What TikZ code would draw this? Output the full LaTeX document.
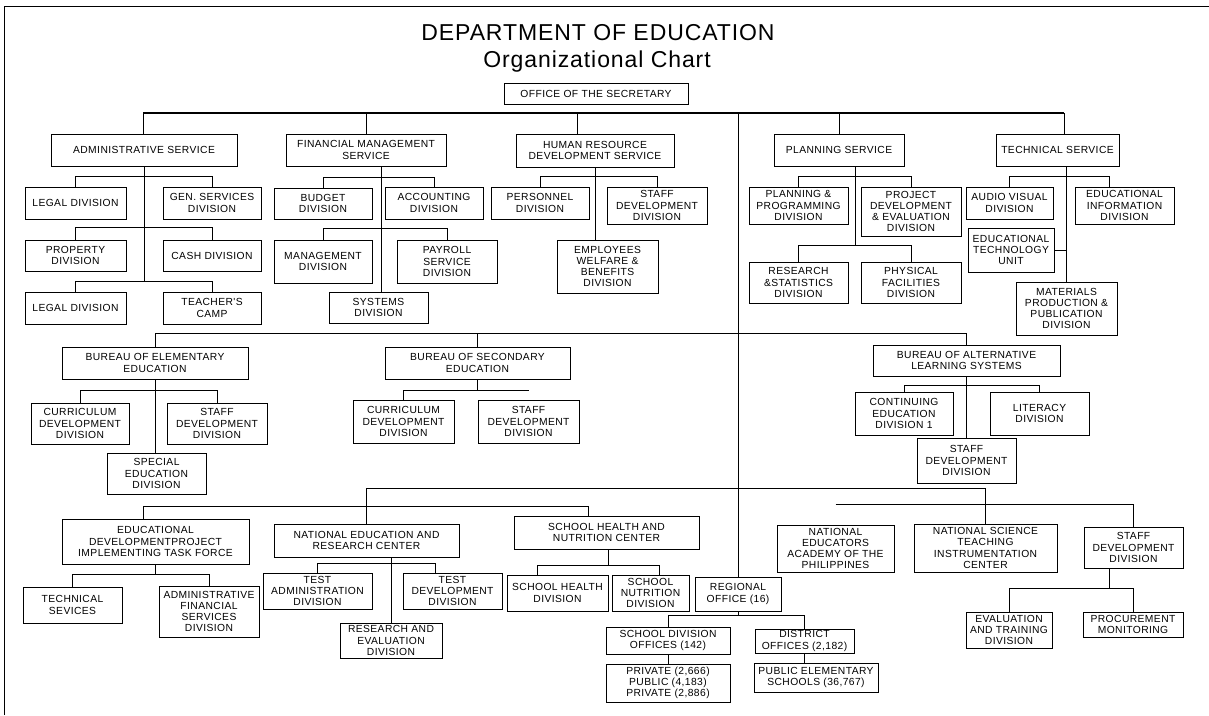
\documentclass[tikz,border=0pt]{standalone}
\usepackage{fontspec}
\setmainfont{Liberation Sans}
\newfontfamily\boxfont[LetterSpace=4]{Liberation Sans}
\newfontfamily\titlefont[LetterSpace=4]{Liberation Sans}
\tikzstyle{box} = [rectangle, draw=black, line width=0.9pt, align=center,
inner sep=0pt, font=\boxfont\fontsize{10.3}{11.2}\selectfont]
\tikzstyle{heading} = [anchor=base, font=\titlefont\fontsize{23}{26}\selectfont]
\tikzstyle{bar} = [line width=1.8pt]
\tikzstyle{thinline} = [line width=0.5pt]

\begin{document}
\begin{tikzpicture}[x=1pt, y=-1pt, line width=0.9pt]
\useasboundingbox (0,0) rectangle (1209,715);
\draw (4,715) -- (4,6) -- (1209,6);
%Titles
\node (ttl) [heading] at (598,40) {DEPARTMENT OF EDUCATION};
\node (sub) [heading] at (597,67) {Organizational Chart};
%Calling the blocks
\node (sec) [box, minimum width=184pt, minimum height=21pt] at (596,93.5) {OFFICE OF THE SECRETARY};
\node (adm) [box, minimum width=186pt, minimum height=32pt] at (144,150) {ADMINISTRATIVE SERVICE};
\node (fms) [box, minimum width=160pt, minimum height=32pt] at (366,150) {FINANCIAL MANAGEMENT\\SERVICE};
\node (hrd) [box, minimum width=158pt, minimum height=33pt] at (595,150.5) {HUMAN RESOURCE\\DEVELOPMENT SERVICE};
\node (pls) [box, minimum width=130pt, minimum height=32pt] at (839,150) {PLANNING SERVICE};
\node (tcs) [box, minimum width=123pt, minimum height=32pt] at (1057.5,150) {TECHNICAL SERVICE};
% administrative service
\node (legA) [box, minimum width=101pt, minimum height=32pt] at (75.5,203) {LEGAL DIVISION};
\node (gsd) [box, minimum width=98pt, minimum height=32pt] at (212,203) {GEN. SERVICES\\DIVISION};
\node (prop) [box, minimum width=101pt, minimum height=31pt] at (75.5,255.5) {PROPERTY\\DIVISION};
\node (cash) [box, minimum width=98pt, minimum height=31pt] at (212,255.5) {CASH DIVISION};
\node (legB) [box, minimum width=101pt, minimum height=32pt] at (75.5,308) {LEGAL DIVISION};
\node (tcamp) [box, minimum width=98pt, minimum height=32pt] at (212,308) {TEACHER'S\\CAMP};
% financial management service
\node (bud) [box, minimum width=98pt, minimum height=31pt] at (323,203.5) {BUDGET\\DIVISION};
\node (acct) [box, minimum width=98pt, minimum height=32pt] at (434,203) {ACCOUNTING\\DIVISION};
\node (mgmt) [box, minimum width=98pt, minimum height=43pt] at (323,261.5) {MANAGEMENT\\DIVISION};
\node (pay) [box, minimum width=100pt, minimum height=43pt] at (447,261.5) {PAYROLL\\SERVICE\\DIVISION};
\node (sys) [box, minimum width=99pt, minimum height=31pt] at (378.5,307.5) {SYSTEMS\\DIVISION};
% human resource
\node (pers) [box, minimum width=98pt, minimum height=32pt] at (540,203) {PERSONNEL\\DIVISION};
\node (hsd) [box, minimum width=100pt, minimum height=37pt] at (657,205.5) {STAFF\\DEVELOPMENT\\DIVISION};
\node (ewb) [box, minimum width=101pt, minimum height=53pt] at (607.5,266.5) {EMPLOYEES\\WELFARE \&\\BENEFITS\\DIVISION};
% planning service
\node (ppd) [box, minimum width=99pt, minimum height=37pt] at (798.5,205.5) {PLANNING \&\\PROGRAMMING\\DIVISION};
\node (pde) [box, minimum width=100pt, minimum height=49pt] at (911,211.5) {PROJECT\\DEVELOPMENT\\\& EVALUATION\\DIVISION};
\node (rsd) [box, minimum width=99pt, minimum height=41pt] at (798.5,282.5) {RESEARCH\\\&STATISTICS\\DIVISION};
\node (pfd) [box, minimum width=100pt, minimum height=41pt] at (911,282.5) {PHYSICAL\\FACILITIES\\DIVISION};
% technical service
\node (avd) [box, minimum width=87pt, minimum height=32pt] at (1009.5,203) {AUDIO VISUAL\\DIVISION};
\node (eid) [box, minimum width=99pt, minimum height=37pt] at (1124.5,205.5) {EDUCATIONAL\\INFORMATION\\DIVISION};
\node (etu) [box, minimum width=86pt, minimum height=44pt] at (1011,250) {EDUCATIONAL\\TECHNOLOGY\\UNIT};
\node (mpp) [box, minimum width=101pt, minimum height=53pt] at (1066.5,308.5) {MATERIALS\\PRODUCTION \&\\PUBLICATION\\DIVISION};
% bureaus
\node (bee) [box, minimum width=186pt, minimum height=32pt] at (155,363) {BUREAU OF ELEMENTARY\\EDUCATION};
\node (bse) [box, minimum width=185pt, minimum height=32pt] at (477.5,363) {BUREAU OF SECONDARY\\EDUCATION};
\node (bals) [box, minimum width=187pt, minimum height=31pt] at (966.5,360.5) {BUREAU OF ALTERNATIVE\\LEARNING SYSTEMS};
\node (ecd) [box, minimum width=98pt, minimum height=41pt] at (80,423.5) {CURRICULUM\\DEVELOPMENT\\DIVISION};
\node (esd) [box, minimum width=100pt, minimum height=41pt] at (217,423.5) {STAFF\\DEVELOPMENT\\DIVISION};
\node (sped) [box, minimum width=99pt, minimum height=41pt] at (156.5,473.5) {SPECIAL\\EDUCATION\\DIVISION};
\node (scd) [box, minimum width=101pt, minimum height=43pt] at (403.5,421.5) {CURRICULUM\\DEVELOPMENT\\DIVISION};
\node (ssd) [box, minimum width=101pt, minimum height=43pt] at (528.5,421.5) {STAFF\\DEVELOPMENT\\DIVISION};
\node (ced) [box, minimum width=98pt, minimum height=43pt] at (904,413.5) {CONTINUING\\EDUCATION\\DIVISION 1};
\node (lit) [box, minimum width=99pt, minimum height=43pt] at (1039.5,413.5) {LITERACY\\DIVISION};
\node (asd) [box, minimum width=99pt, minimum height=45pt] at (966.5,460.5) {STAFF\\DEVELOPMENT\\DIVISION};
% attached agencies
\node (edp) [box, minimum width=187pt, minimum height=45pt] at (155.5,541.5) {EDUCATIONAL\\DEVELOPMENTPROJECT\\IMPLEMENTING TASK FORCE};
\node (tsv) [box, minimum width=99pt, minimum height=36pt] at (72.5,605) {TECHNICAL\\SEVICES};
\node (afs) [box, minimum width=100pt, minimum height=51pt] at (209,611.5) {ADMINISTRATIVE\\FINANCIAL\\SERVICES\\DIVISION};
\node (nerc) [box, minimum width=185pt, minimum height=33pt] at (366.5,540.5) {NATIONAL EDUCATION AND\\RESEARCH CENTER};
\node (tad) [box, minimum width=109pt, minimum height=36pt] at (317.5,591) {TEST\\ADMINISTRATION\\DIVISION};
\node (tdd) [box, minimum width=99pt, minimum height=36pt] at (452.5,591) {TEST\\DEVELOPMENT\\DIVISION};
\node (red) [box, minimum width=102pt, minimum height=35pt] at (391,640.5) {RESEARCH AND\\EVALUATION\\DIVISION};
\node (shnc) [box, minimum width=185pt, minimum height=33pt] at (606.5,532.5) {SCHOOL HEALTH AND\\NUTRITION CENTER};
\node (shd) [box, minimum width=101pt, minimum height=36pt] at (557.5,593) {SCHOOL HEALTH\\DIVISION};
\node (snd) [box, minimum width=77pt, minimum height=36pt] at (650.5,593) {SCHOOL\\NUTRITION\\DIVISION};
\node (reg) [box, minimum width=86pt, minimum height=34pt] at (738,594) {REGIONAL\\OFFICE (16)};
\node (sdo) [box, minimum width=124pt, minimum height=27pt] at (668,640.5) {SCHOOL DIVISION\\OFFICES (142)};
\node (dso) [box, minimum width=99pt, minimum height=24pt] at (804.5,641) {DISTRICT\\OFFICES (2,182)};
\node (pps) [box, minimum width=124pt, minimum height=38pt] at (668,683) {PRIVATE (2,666)\\PUBLIC (4,183)\\PRIVATE (2,886)};
\node (pes) [box, minimum width=124pt, minimum height=29pt] at (816,677.5) {PUBLIC ELEMENTARY\\SCHOOLS (36,767)};
\node (neap) [box, minimum width=117pt, minimum height=47pt] at (835.5,548.5) {NATIONAL\\EDUCATORS\\ACADEMY OF THE\\PHILIPPINES};
\node (nstic) [box, minimum width=143pt, minimum height=48pt] at (985.5,548) {NATIONAL SCIENCE\\TEACHING\\INSTRUMENTATION\\CENTER};
\node (rsd2) [box, minimum width=99pt, minimum height=41pt] at (1133.5,547.5) {STAFF\\DEVELOPMENT\\DIVISION};
\node (etd) [box, minimum width=86pt, minimum height=36pt] at (1009,630) {EVALUATION\\AND TRAINING\\DIVISION};
\node (prm) [box, minimum width=100pt, minimum height=25pt] at (1133,624.5) {PROCUREMENT\\MONITORING};
% Drawing the lines between blocks
\coordinate (barL) at (143,113);
\coordinate (barR) at (1064,113);
\coordinate (hrj) at (577,113);
\draw[bar] (barL) -- (barR);
\draw (barL) -- (barL |- adm.north);
\draw (fms.north |- barL) -- (fms.north);
\draw (hrj) -- (hrj |- hrd.north);
\draw (pls.north |- barL) -- (pls.north);
\draw (barR) -- (barR |- tcs.north);
\draw (reg.north |- barL) -- (reg.north);
% administrative service
\draw (legA.north) -- ++(0,10pt) -| (gsd.north);
\draw (prop.north) -- ++(0,12pt) -| (cash.north);
\draw (legB.north) -- ++(0,10pt) coordinate (admk) -| (tcamp.north);
\draw (adm.south) -- (adm.south |- admk);
% financial management service
\coordinate (fmj) at (381,0);
\draw (fms.south -| fmj) -- (sys.north -| fmj);
\draw (bud.north) -- ++(0,10pt) -| (acct.north);
\draw (mgmt.north) -- ++(0,11pt) -| (pay.north);
% human resource
\draw (hrd.south) -- (hrd.south |- ewb.north);
\draw (pers.north) -- ++(0,10pt) -| (hsd.north);
% planning service
\coordinate (plj) at (855,0);
\draw (ppd.north) -- ++(0,10pt) -| (pde.north);
\draw (rsd.north) -- ++(0,16pt) coordinate (plk) -| (pfd.north);
\draw (pls.south -| plj) -- (plk -| plj);
% technical service
\coordinate (tcj) at (1109,0);
\draw (tcs.south -| mpp.north) -- (mpp.north);
\draw (avd.north) -- ++(0,10pt) -| (eid.north -| tcj);
\draw (etu.east) -- (etu.east -| mpp.north);
% bureaus
\draw (bee.north) -- ++(0,13pt) -| (bals.north);
\draw (bse.north) -- ++(0,13pt);
\draw (bee.south) -- (bee.south |- sped.north);
\draw[thinline] (ecd.north) -- ++(0,12pt) -| (esd.north);
\draw[thinline] (scd.north) -- ++(0,9pt) coordinate (bsk) -- (bsk -| ssd.north);
\draw (bse.south) -- (bse.south |- bsk);
\draw (bals.south) -- (asd.north);
\draw (ced.north) -- ++(0,6pt) -| (lit.north);
% attached agencies
\coordinate (edj) at (143,506);
\coordinate (shj) at (588,506);
\draw (nerc.north) -- ++(0,35pt) -| (nstic.north);
\draw (edp.north -| edj) -- (edj) -- (shj) -- (shnc.north -| shj);
\draw (neap.north) ++(0,20pt) -| (rsd2.north);
\draw (tsv.north) -- ++(0,12pt) coordinate (edk) -| (afs.north);
\draw (edp.south) -- (edp.south |- edk);
\coordinate (tdj) at (435,0);
\draw (nerc.south -| red.north) -- (red.north);
\draw (tad.north) -- ++(0,9pt) -| (tdd.north -| tdj);
\coordinate (shl) at (537,0);
\coordinate (shr) at (659,0);
\coordinate (shm) at (608,0);
\draw (shd.north -| shl) -- ++(0,9pt) coordinate (shk) -| (snd.north -| shr);
\draw (shnc.south -| shm) -- (shk -| shm);
% regional office
\draw (sdo.north) -- ++(0,11pt) coordinate (rgk) -| (dso.north);
\draw (reg.south) -- (reg.south |- rgk);
\draw (sdo.south) -- (pps.north);
\draw (dso.south) -- (dso.south |- pes.north);
% staff development
\coordinate (sdj) at (1109,0);
\draw (etd.north) -- ++(0,23pt) coordinate (sdk) -| (prm.north);
\draw (rsd2.south -| sdj) -- (sdk -| sdj);
\end{tikzpicture}
\end{document}
